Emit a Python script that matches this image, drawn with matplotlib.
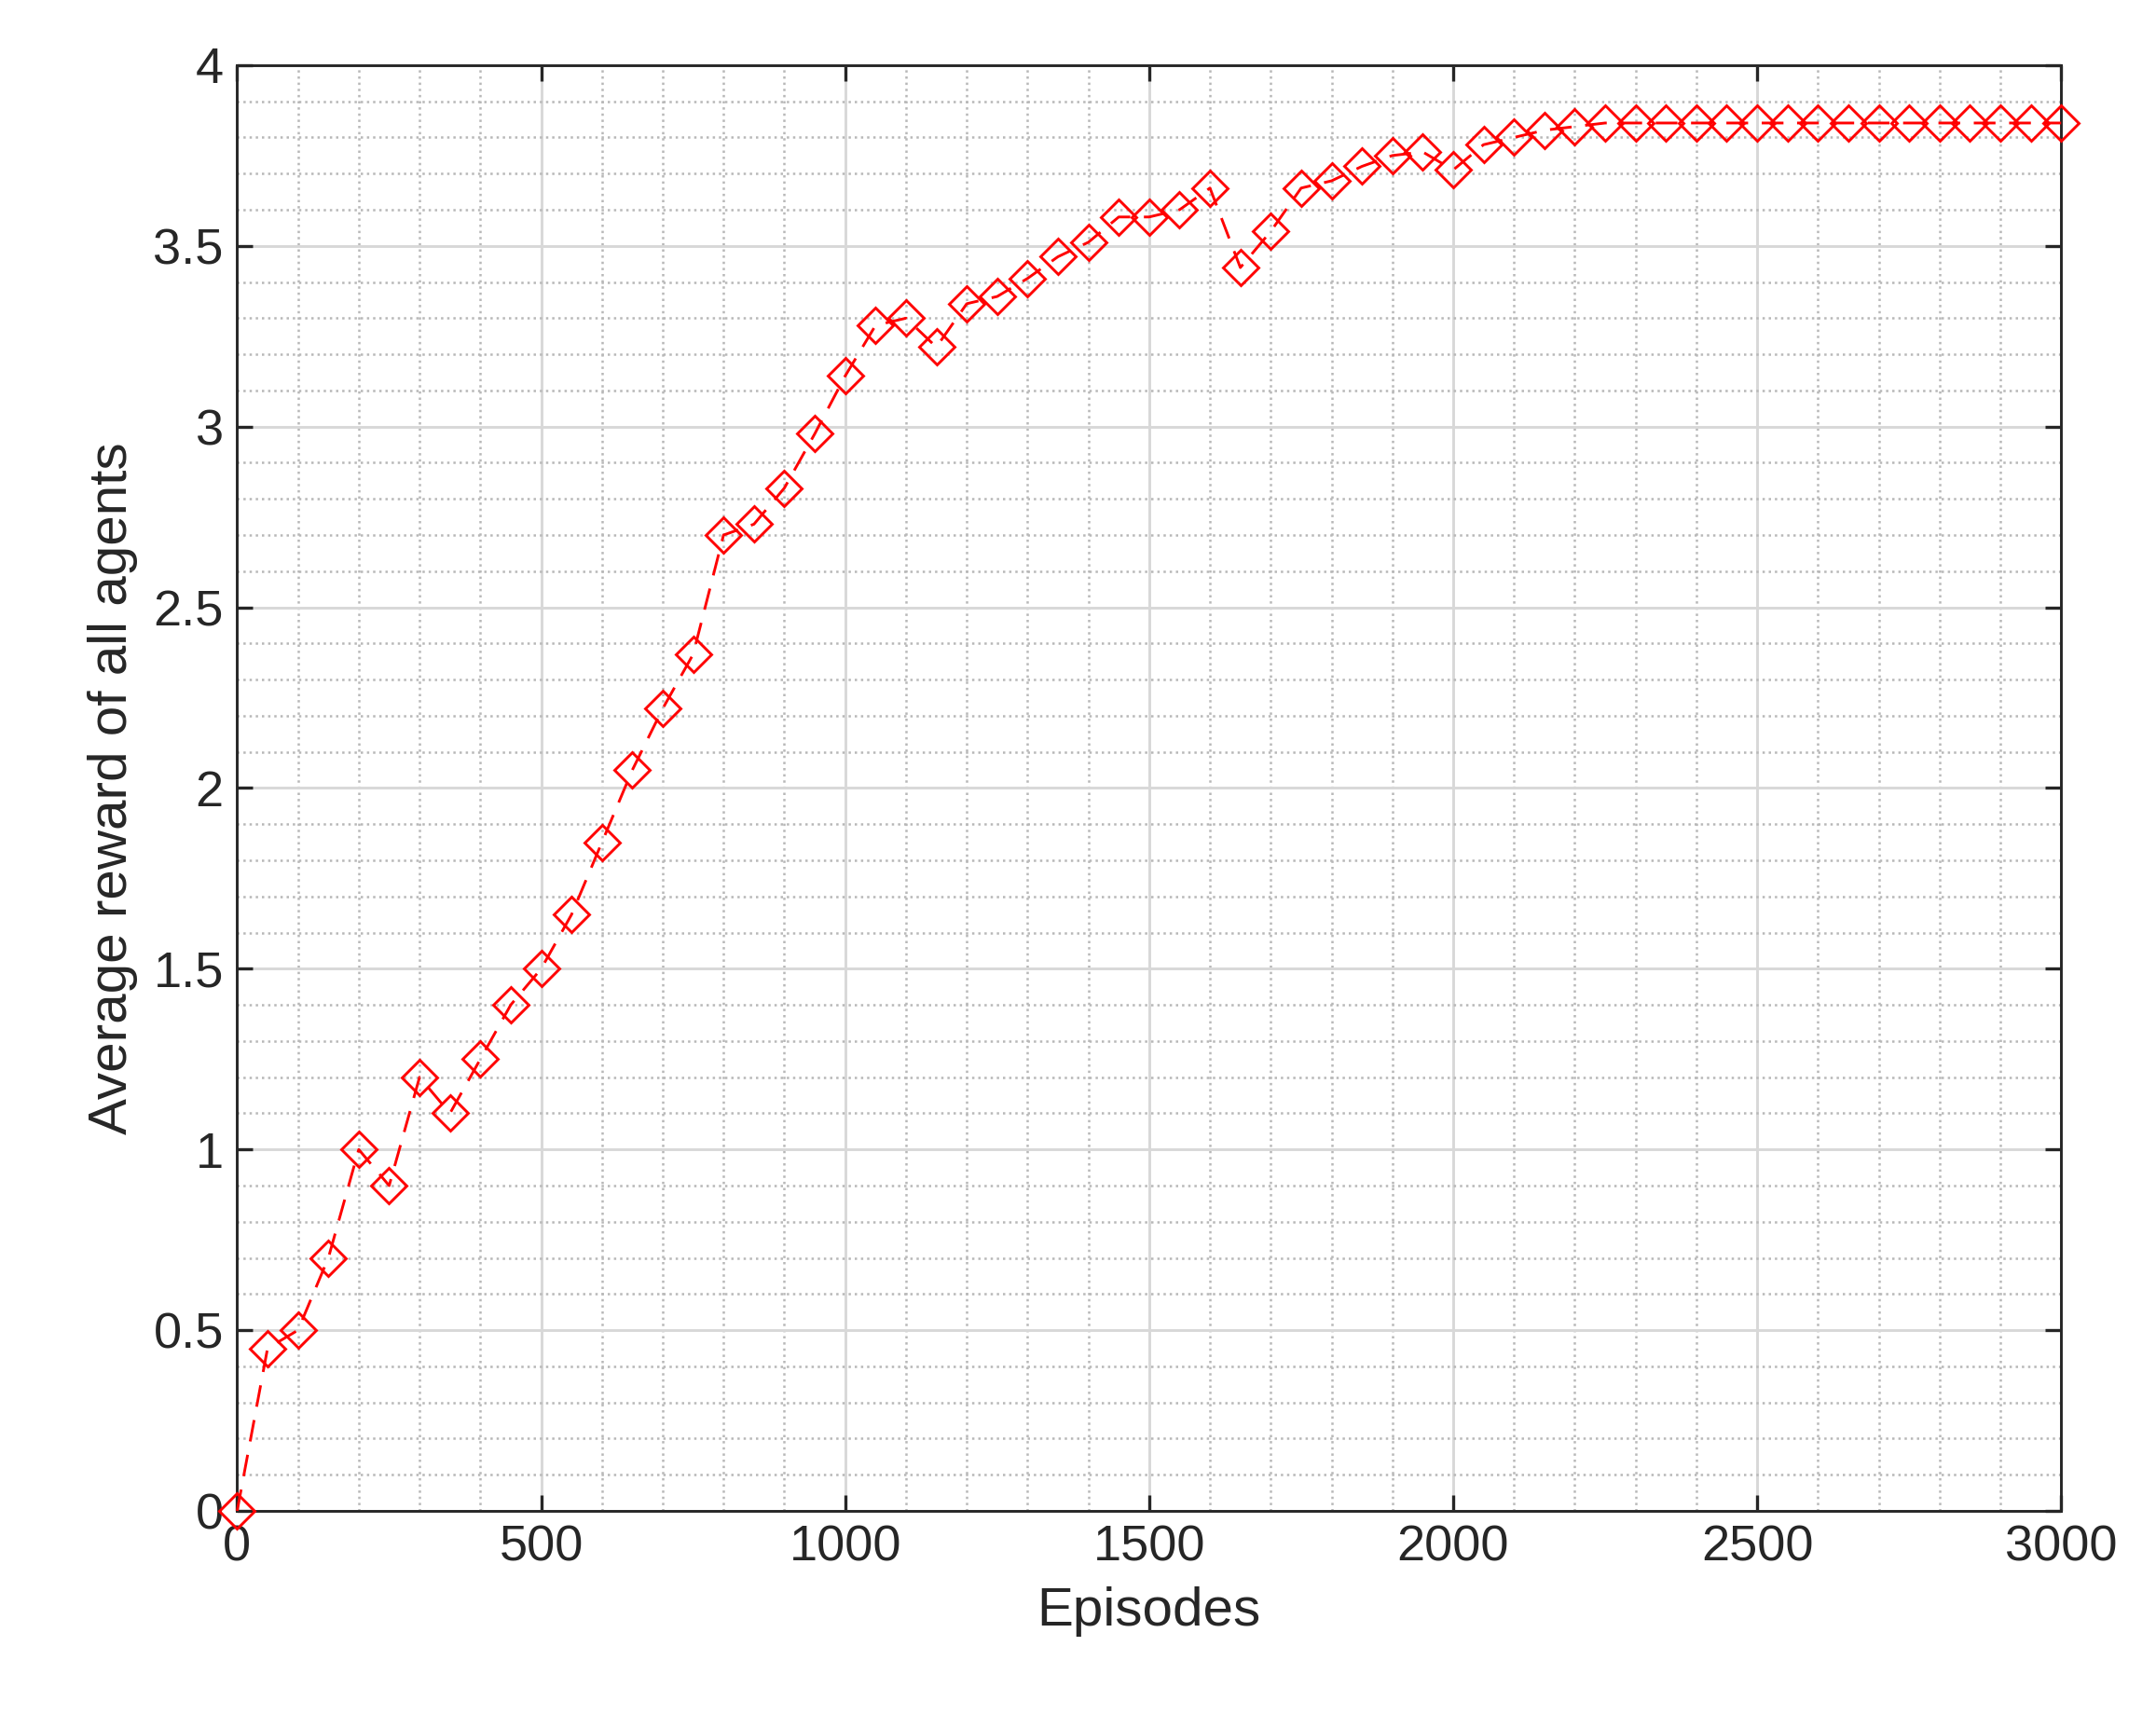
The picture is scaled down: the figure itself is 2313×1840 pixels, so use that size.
import matplotlib
matplotlib.use("Agg")
import matplotlib.pyplot as plt
from matplotlib.ticker import MultipleLocator

plt.rcParams['font.family'] = ['Liberation Sans', 'DejaVu Sans']

episodes = list(range(0, 3001, 50))
reward = [0, 0.45, 0.5, 0.7, 1.0, 0.9, 1.2, 1.1, 1.25, 1.4, 1.5, 1.65, 1.85, 2.05, 2.22, 2.37,
          2.7, 2.73, 2.83, 2.98, 3.14, 3.28, 3.3, 3.22, 3.34, 3.36, 3.41, 3.47, 3.51, 3.58,
          3.58, 3.6, 3.66, 3.44, 3.54, 3.66, 3.68, 3.72, 3.75, 3.76, 3.71, 3.78, 3.8, 3.82,
          3.83] + [3.84] * 16

fig = plt.figure(figsize=(2313/300, 1840/300), dpi=300)
ax = fig.add_axes([0.110, 0.119, 0.846, 0.843])
ax.plot(episodes, reward, color='red', linestyle=(0, (8, 5)), linewidth=0.7,
        marker='D', markersize=6.5, markerfacecolor='none', markeredgecolor='red',
        markeredgewidth=0.7, clip_on=False, zorder=5)
ax.set_xlim(0, 3000)
ax.set_ylim(0, 4)
ax.xaxis.set_major_locator(MultipleLocator(500))
ax.xaxis.set_minor_locator(MultipleLocator(100))
ax.yaxis.set_minor_locator(MultipleLocator(0.1))
ax.set_yticks([0, 0.5, 1, 1.5, 2, 2.5, 3, 3.5, 4])
ax.set_yticklabels(['0', '0.5', '1', '1.5', '2', '2.5', '3', '3.5', '4'])
ax.grid(which='major', color='#d8d8d8', linewidth=0.7)
ax.grid(which='minor', color='#b8b8b8', linestyle=':', linewidth=0.6)
ax.set_axisbelow(True)
ax.tick_params(which='both', direction='in', top=True, right=True, labelsize=13, colors='#262626')
ax.tick_params(which='minor', length=0)
ax.tick_params(which='major', length=4)
for s in ax.spines.values():
    s.set_color('#262626'); s.set_linewidth(0.7)
ax.set_xlabel('Episodes', fontsize=14, color='#262626')
ax.set_ylabel('Average reward of all agents', fontsize=14, color='#262626')
fig.savefig('out.png', dpi=300)
